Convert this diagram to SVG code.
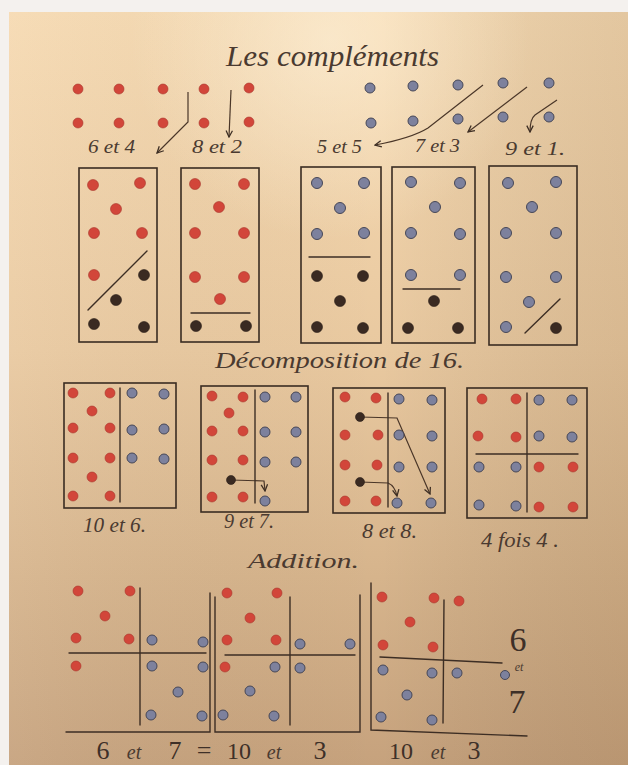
<svg xmlns="http://www.w3.org/2000/svg" width="628" height="765" viewBox="0 0 628 765">
<defs>
<linearGradient id="pv" x1="0" y1="0" x2="0" y2="1">
<stop offset="0" stop-color="#f6dab2"/>
<stop offset="0.45" stop-color="#e9c9a0"/>
<stop offset="0.75" stop-color="#d6b48c"/>
<stop offset="1" stop-color="#c6a27d"/>
</linearGradient>
<linearGradient id="ph" x1="0" y1="0" x2="1" y2="0">
<stop offset="0" stop-color="#ffffff" stop-opacity="0.06"/>
<stop offset="0.6" stop-color="#000000" stop-opacity="0"/>
<stop offset="1" stop-color="#5a3a1a" stop-opacity="0.12"/>
</linearGradient>
<radialGradient id="glare" cx="330" cy="40" r="200" gradientUnits="userSpaceOnUse">
<stop offset="0" stop-color="#fff4de" stop-opacity="0.55"/>
<stop offset="1" stop-color="#fff4de" stop-opacity="0"/>
</radialGradient>
<marker id="ah" viewBox="0 0 10 10" refX="9" refY="5" markerWidth="8" markerHeight="8" markerUnits="userSpaceOnUse" orient="auto">
<path d="M1,1 L9,5 L1,9" fill="none" stroke="#3d2e24" stroke-width="1.6"/>
</marker>
<style>
.r{fill:#d2463a;stroke:#a8352c;stroke-width:0.6}
.b{fill:#7d819d;stroke:#464757;stroke-width:1}
.k{fill:#3a2a22;stroke:#2a1e18;stroke-width:0.6}
.ln{fill:none;stroke:#3d2e24;stroke-width:1.4;stroke-linecap:round}
.box{fill:none;stroke:#3a2c22;stroke-width:1.6}
.ar{fill:none;stroke:#4a3628;stroke-width:1.2;marker-end:url(#ah)}
.t{font-family:"Liberation Serif","DejaVu Serif",serif;font-style:italic;fill:#4a3a30}
.n{font-family:"Liberation Serif","DejaVu Serif",serif;fill:#3e3028}
</style>
</defs>

<rect x="0" y="0" width="628" height="765" fill="#f4f1ee"/>
<rect x="9" y="12" width="619" height="753" fill="url(#pv)"/>
<rect x="9" y="12" width="619" height="753" fill="url(#ph)"/>
<rect x="9" y="12" width="619" height="753" fill="url(#glare)"/>

<g id="titles">
<text class="t" x="226" y="66" font-size="30" textLength="213" lengthAdjust="spacingAndGlyphs">Les compléments</text>
<text class="t" x="215" y="368" font-size="23" textLength="249" lengthAdjust="spacingAndGlyphs">Décomposition de 16.</text>
<text class="t" x="248" y="568" font-size="21" textLength="111" lengthAdjust="spacingAndGlyphs">Addition.</text>
</g>

<g id="top-red-dots">
<circle class="r" cx="78" cy="89" r="5"/><circle class="r" cx="119" cy="89" r="5"/><circle class="r" cx="163" cy="89" r="5"/><circle class="r" cx="204" cy="89" r="5"/><circle class="r" cx="249" cy="88" r="5"/>
<circle class="r" cx="78" cy="123" r="5"/><circle class="r" cx="119" cy="123" r="5"/><circle class="r" cx="163" cy="123" r="5"/><circle class="r" cx="204" cy="123" r="5"/><circle class="r" cx="249" cy="122" r="5"/>
</g>
<g id="top-blue-dots">
<circle class="b" cx="370" cy="88" r="5"/><circle class="b" cx="413" cy="86" r="5"/><circle class="b" cx="458" cy="85" r="5"/><circle class="b" cx="503" cy="83" r="5"/><circle class="b" cx="549" cy="83" r="5"/>
<circle class="b" cx="371" cy="123" r="5"/><circle class="b" cx="413" cy="121" r="5"/><circle class="b" cx="458" cy="119" r="5"/><circle class="b" cx="503" cy="117" r="5"/><circle class="b" cx="549" cy="117" r="5"/>
</g>

<g id="connectors">
<path class="ar" d="M188,92 L188,122 L157,153"/>
<path class="ar" d="M231,90 L229,137"/>
<path class="ar" d="M483,85 L428,128 Q412,138 375,145"/>
<path class="ar" d="M527,87 L468,132"/>
<path class="ar" d="M557,100 L535,115 Q530,119 530,132"/>
<path class="ar" d="M231,480 L264,481 L265,491"/>
<path class="ar" d="M360,417 L397,418 L430,494"/>
<path class="ar" d="M360,482 L388,483 Q395,486 397,496"/>
</g>

<g id="top-labels">
<text class="t" x="88" y="153" font-size="19" textLength="47" lengthAdjust="spacingAndGlyphs">6 et 4</text>
<text class="t" x="192" y="153" font-size="19" textLength="50" lengthAdjust="spacingAndGlyphs">8 et 2</text>
<text class="t" x="317" y="153" font-size="19" textLength="45" lengthAdjust="spacingAndGlyphs">5 et 5</text>
<text class="t" x="415" y="152" font-size="19" textLength="45" lengthAdjust="spacingAndGlyphs">7 et 3</text>
<text class="t" x="505" y="155" font-size="19" textLength="60" lengthAdjust="spacingAndGlyphs">9 et 1.</text>
</g>

<g id="domino-1">
<rect class="box" x="79" y="168" width="78" height="174"/>
<circle class="r" cx="93" cy="185" r="5.5"/><circle class="r" cx="140" cy="183" r="5.5"/><circle class="r" cx="116" cy="209" r="5.5"/>
<circle class="r" cx="94" cy="233" r="5.5"/><circle class="r" cx="142" cy="233" r="5.5"/><circle class="r" cx="94" cy="275" r="5.5"/>
<circle class="k" cx="144" cy="275" r="5.5"/><circle class="k" cx="116" cy="300" r="5.5"/><circle class="k" cx="94" cy="324" r="5.5"/><circle class="k" cx="144" cy="327" r="5.5"/>
<line class="ln" x1="88" y1="310" x2="147" y2="251"/>
</g>
<g id="domino-2">
<rect class="box" x="181" y="168" width="78" height="174"/>
<circle class="r" cx="195" cy="184" r="5.5"/><circle class="r" cx="244" cy="184" r="5.5"/><circle class="r" cx="219" cy="207" r="5.5"/>
<circle class="r" cx="195" cy="233" r="5.5"/><circle class="r" cx="244" cy="233" r="5.5"/><circle class="r" cx="195" cy="277" r="5.5"/>
<circle class="r" cx="244" cy="277" r="5.5"/><circle class="r" cx="220" cy="299" r="5.5"/>
<line class="ln" x1="191" y1="313" x2="250" y2="313"/>
<circle class="k" cx="196" cy="326" r="5.5"/><circle class="k" cx="246" cy="326" r="5.5"/>
</g>
<g id="domino-3">
<rect class="box" x="301" y="167" width="80" height="176"/>
<circle class="b" cx="317" cy="183" r="5.5"/><circle class="b" cx="364" cy="183" r="5.5"/><circle class="b" cx="340" cy="208" r="5.5"/>
<circle class="b" cx="317" cy="234" r="5.5"/><circle class="b" cx="364" cy="233" r="5.5"/>
<line class="ln" x1="309" y1="257" x2="370" y2="257"/>
<circle class="k" cx="317" cy="276" r="5.5"/><circle class="k" cx="363" cy="276" r="5.5"/><circle class="k" cx="340" cy="301" r="5.5"/>
<circle class="k" cx="317" cy="327" r="5.5"/><circle class="k" cx="363" cy="328" r="5.5"/>
</g>
<g id="domino-4">
<rect class="box" x="392" y="167" width="83" height="176"/>
<circle class="b" cx="411" cy="182" r="5.5"/><circle class="b" cx="460" cy="183" r="5.5"/><circle class="b" cx="435" cy="207" r="5.5"/>
<circle class="b" cx="411" cy="233" r="5.5"/><circle class="b" cx="460" cy="234" r="5.5"/><circle class="b" cx="411" cy="275" r="5.5"/><circle class="b" cx="460" cy="275" r="5.5"/>
<line class="ln" x1="403" y1="289" x2="460" y2="289"/>
<circle class="k" cx="434" cy="301" r="5.5"/><circle class="k" cx="408" cy="328" r="5.5"/><circle class="k" cx="458" cy="328" r="5.5"/>
</g>
<g id="domino-5">
<rect class="box" x="489" y="166" width="88" height="179"/>
<circle class="b" cx="508" cy="183" r="5.5"/><circle class="b" cx="556" cy="182" r="5.5"/><circle class="b" cx="532" cy="207" r="5.5"/>
<circle class="b" cx="506" cy="233" r="5.5"/><circle class="b" cx="556" cy="233" r="5.5"/><circle class="b" cx="506" cy="277" r="5.5"/><circle class="b" cx="556" cy="277" r="5.5"/>
<circle class="b" cx="529" cy="302" r="5.5"/><circle class="b" cx="506" cy="327" r="5.5"/>
<circle class="k" cx="556" cy="328" r="5.5"/>
<line class="ln" x1="525" y1="333" x2="560" y2="299"/>
</g>

<g id="box-10-6">
<rect class="box" x="64" y="383" width="112" height="125"/>
<circle class="r" cx="73" cy="393" r="5"/><circle class="r" cx="110" cy="393" r="5"/><circle class="r" cx="92" cy="411" r="5"/>
<circle class="r" cx="73" cy="428" r="5"/><circle class="r" cx="110" cy="428" r="5"/><circle class="r" cx="73" cy="458" r="5"/><circle class="r" cx="110" cy="458" r="5"/>
<circle class="r" cx="92" cy="477" r="5"/><circle class="r" cx="73" cy="496" r="5"/><circle class="r" cx="110" cy="496" r="5"/>
<line class="ln" x1="120" y1="388" x2="120" y2="502"/>
<circle class="b" cx="132" cy="393" r="5"/><circle class="b" cx="164" cy="394" r="5"/><circle class="b" cx="132" cy="430" r="5"/>
<circle class="b" cx="164" cy="429" r="5"/><circle class="b" cx="132" cy="458" r="5"/><circle class="b" cx="164" cy="459" r="5"/>
<text class="t" x="83" y="532" font-size="20" textLength="63" lengthAdjust="spacingAndGlyphs">10 et 6.</text>
</g>
<g id="box-9-7">
<rect class="box" x="201" y="386" width="107" height="126"/>
<circle class="r" cx="212" cy="396" r="5"/><circle class="r" cx="243" cy="397" r="5"/><circle class="r" cx="229" cy="413" r="5"/>
<circle class="r" cx="212" cy="431" r="5"/><circle class="r" cx="243" cy="431" r="5"/><circle class="r" cx="212" cy="460" r="5"/><circle class="r" cx="243" cy="460" r="5"/>
<circle class="r" cx="212" cy="497" r="5"/><circle class="r" cx="243" cy="497" r="5"/>
<line class="ln" x1="255" y1="390" x2="255" y2="503"/>
<circle class="b" cx="265" cy="397" r="5"/><circle class="b" cx="296" cy="397" r="5"/><circle class="b" cx="265" cy="432" r="5"/><circle class="b" cx="296" cy="432" r="5"/>
<circle class="b" cx="265" cy="462" r="5"/><circle class="b" cx="296" cy="462" r="5"/><circle class="b" cx="265" cy="501" r="5"/>
<circle class="k" cx="231" cy="480" r="4.5"/>
<text class="t" x="224" y="528" font-size="20" textLength="50" lengthAdjust="spacingAndGlyphs">9 et 7.</text>
</g>
<g id="box-8-8">
<rect class="box" x="333" y="388" width="112" height="125"/>
<circle class="r" cx="345" cy="397" r="5"/><circle class="r" cx="376" cy="398" r="5"/><circle class="r" cx="345" cy="435" r="5"/><circle class="r" cx="378" cy="435" r="5"/>
<circle class="r" cx="345" cy="465" r="5"/><circle class="r" cx="377" cy="465" r="5"/><circle class="r" cx="345" cy="501" r="5"/><circle class="r" cx="376" cy="501" r="5"/>
<line class="ln" x1="388" y1="393" x2="388" y2="507"/>
<circle class="b" cx="399" cy="399" r="5"/><circle class="b" cx="432" cy="400" r="5"/><circle class="b" cx="399" cy="435" r="5"/><circle class="b" cx="432" cy="436" r="5"/>
<circle class="b" cx="399" cy="467" r="5"/><circle class="b" cx="432" cy="467" r="5"/><circle class="b" cx="397" cy="503" r="5"/><circle class="b" cx="431" cy="503" r="5"/>
<circle class="k" cx="360" cy="417" r="4.5"/><circle class="k" cx="360" cy="482" r="4.5"/>
<text class="t" x="362" y="538" font-size="20" textLength="55" lengthAdjust="spacingAndGlyphs">8 et 8.</text>
</g>
<g id="box-4-fois-4">
<rect class="box" x="467" y="388" width="120" height="130"/>
<circle class="r" cx="482" cy="399" r="5"/><circle class="r" cx="516" cy="399" r="5"/><circle class="r" cx="478" cy="436" r="5"/><circle class="r" cx="516" cy="437" r="5"/>
<circle class="r" cx="539" cy="467" r="5"/><circle class="r" cx="573" cy="467" r="5"/><circle class="r" cx="539" cy="507" r="5"/><circle class="r" cx="573" cy="507" r="5"/>
<circle class="b" cx="539" cy="400" r="5"/><circle class="b" cx="572" cy="400" r="5"/><circle class="b" cx="539" cy="436" r="5"/><circle class="b" cx="572" cy="437" r="5"/>
<circle class="b" cx="479" cy="467" r="5"/><circle class="b" cx="516" cy="467" r="5"/><circle class="b" cx="479" cy="505" r="5"/><circle class="b" cx="516" cy="506" r="5"/>
<line class="ln" x1="527" y1="393" x2="527" y2="512"/>
<line class="ln" x1="476" y1="454" x2="578" y2="454"/>
<text class="t" x="481" y="547" font-size="20" textLength="78" lengthAdjust="spacingAndGlyphs">4 fois 4 .</text>
</g>

<g id="addition-1">
<circle class="r" cx="78" cy="591" r="5"/><circle class="r" cx="130" cy="591" r="5"/><circle class="r" cx="105" cy="616" r="5"/>
<circle class="r" cx="76" cy="638" r="5"/><circle class="r" cx="129" cy="639" r="5"/><circle class="r" cx="76" cy="666" r="5"/>
<line class="ln" x1="140" y1="588" x2="140" y2="725"/>
<line class="ln" x1="69" y1="653" x2="206" y2="653"/>
<circle class="b" cx="152" cy="640" r="5"/><circle class="b" cx="203" cy="642" r="5"/><circle class="b" cx="152" cy="666" r="5"/><circle class="b" cx="203" cy="667" r="5"/>
<circle class="b" cx="178" cy="692" r="5"/><circle class="b" cx="151" cy="715" r="5"/><circle class="b" cx="202" cy="716" r="5"/>
<path class="ln" d="M66,732 L210,732 L210,593" stroke-width="2"/>
</g>
<g id="addition-2">
<path class="ln" d="M215,597 L215,732 L360,732 L360,595" stroke-width="2"/>
<circle class="r" cx="227" cy="593" r="5"/><circle class="r" cx="277" cy="593" r="5"/><circle class="r" cx="250" cy="618" r="5"/>
<circle class="r" cx="227" cy="640" r="5"/><circle class="r" cx="276" cy="640" r="5"/><circle class="r" cx="225" cy="667" r="5"/>
<line class="ln" x1="290" y1="597" x2="290" y2="725"/>
<line class="ln" x1="225" y1="655" x2="355" y2="655"/>
<circle class="b" cx="300" cy="644" r="5"/><circle class="b" cx="350" cy="644" r="5"/><circle class="b" cx="275" cy="667" r="5"/><circle class="b" cx="300" cy="668" r="5"/>
<circle class="b" cx="250" cy="691" r="5"/><circle class="b" cx="223" cy="715" r="5"/><circle class="b" cx="274" cy="716" r="5"/>
</g>
<g id="addition-3">
<path class="ln" d="M371,583 L371,730 L527,736" stroke-width="2"/>
<circle class="r" cx="382" cy="597" r="5"/><circle class="r" cx="434" cy="598" r="5"/><circle class="r" cx="459" cy="601" r="5"/>
<circle class="r" cx="410" cy="622" r="5"/><circle class="r" cx="383" cy="645" r="5"/><circle class="r" cx="433" cy="647" r="5"/>
<line class="ln" x1="444" y1="600" x2="443" y2="723"/>
<line class="ln" x1="380" y1="657" x2="502" y2="663"/>
<circle class="b" cx="383" cy="670" r="5"/><circle class="b" cx="432" cy="673" r="5"/><circle class="b" cx="457" cy="673" r="5"/><circle class="b" cx="505" cy="675" r="4.5"/>
<circle class="b" cx="407" cy="695" r="5"/><circle class="b" cx="381" cy="717" r="5"/><circle class="b" cx="432" cy="720" r="5"/>
<text class="n" x="518" y="651" font-size="34" text-anchor="middle">6</text>
<text class="t" x="519" y="671" font-size="12" text-anchor="middle">et</text>
<text class="n" x="517" y="713" font-size="34" text-anchor="middle">7</text>
</g>

<g id="bottom-labels">
<text class="n" x="103" y="759" font-size="26" text-anchor="middle">6</text>
<text class="t" x="134" y="759" font-size="20" text-anchor="middle">et</text>
<text class="n" x="175" y="759" font-size="26" text-anchor="middle">7</text>
<text class="n" x="204" y="759" font-size="26" text-anchor="middle">=</text>
<text class="n" x="239" y="759" font-size="24" text-anchor="middle">10</text>
<text class="t" x="274" y="759" font-size="20" text-anchor="middle">et</text>
<text class="n" x="320" y="759" font-size="26" text-anchor="middle">3</text>
<text class="n" x="401" y="759" font-size="24" text-anchor="middle">10</text>
<text class="t" x="438" y="759" font-size="20" text-anchor="middle">et</text>
<text class="n" x="474" y="759" font-size="26" text-anchor="middle">3</text>
</g>
</svg>
